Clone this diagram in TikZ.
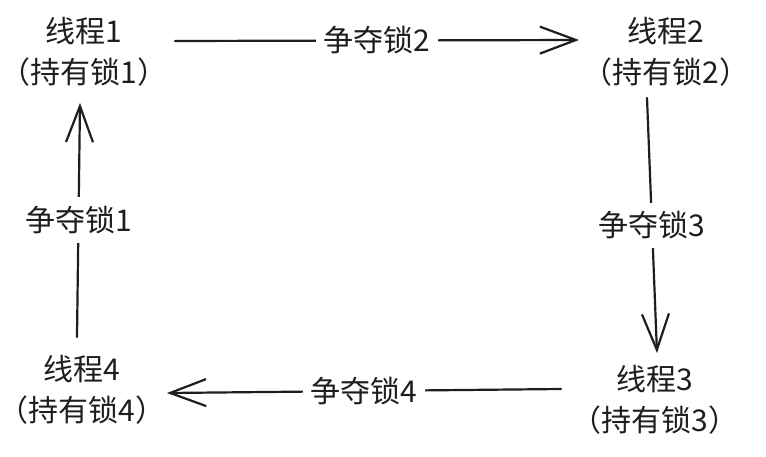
\documentclass[tikz,border=0pt]{standalone}
\usepackage{fontspec}
\setmainfont{Noto Sans CJK SC}
\usetikzlibrary{arrows.meta,calc}
\definecolor{ink}{HTML}{1E1E1E}
\begin{document}
\begin{tikzpicture}[x=1pt,y=-1pt,
  thread/.style={align=center,font=\fontsize{30}{41}\selectfont,text=ink,inner sep=0pt},
  lbl/.style={fill=white,text=ink,font=\fontsize{30}{34}\selectfont,inner xsep=8pt,inner ysep=9pt},
  conn/.style={line width=2.2pt,draw=ink,line cap=round,
    -{Straight Barb[length=36pt,width=27pt,line width=2.2pt]}}]
\useasboundingbox (0,0) rectangle (766,456);
\node[thread] (t1) at (84,52) {线程1\\（持有锁1）};
\node[thread] (t2) at (666,52) {线程2\\（持有锁2）};
\node[thread] (t3) at (655,400) {线程3\\（持有锁3）};
\node[thread] (t4) at (82,390) {线程4\\（持有锁4）};
\draw[conn] ($(t1.center)+(91,-11)$) -- node[lbl]{争夺锁2} ($(t2.center)+(-87,-12)$);
\draw[conn] ($(t2.center)+(-19,46)$) -- node[lbl]{争夺锁3} ($(t3.center)+(2,-47)$);
\draw[conn] ($(t3.center)+(-94,-11)$) -- node[lbl]{争夺锁4} ($(t4.center)+(85,3)$);
\draw[conn] ($(t4.center)+(-5,-53)$) -- node[lbl]{争夺锁1} ($(t1.center)+(-4,51)$);
\end{tikzpicture}
\end{document}
